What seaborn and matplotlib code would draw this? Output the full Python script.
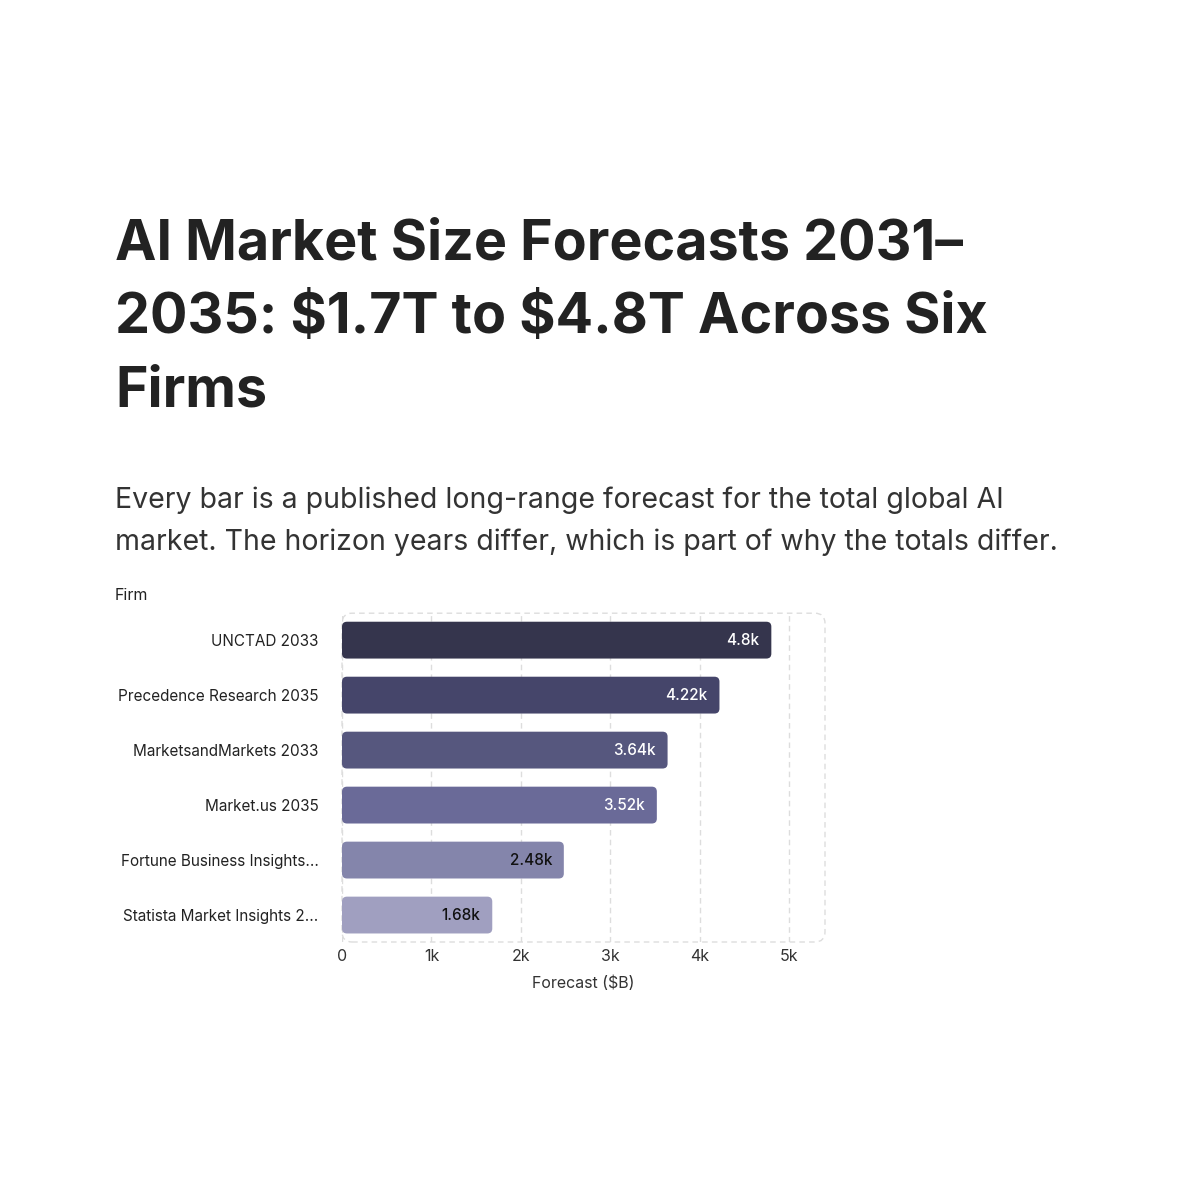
import pandas as pd
import matplotlib.pyplot as plt
import seaborn as sns
from matplotlib.patches import FancyBboxPatch

firms = ["UNCTAD 2033", "Precedence Research 2035", "MarketsandMarkets 2033",
         "Market.us 2035", "Fortune Business Insights...", "Statista Market Insights 2..."]
forecast = [4800, 4220, 3640, 3520, 2480, 1680]
value_labels = ["4.8k", "4.22k", "3.64k", "3.52k", "2.48k", "1.68k"]
bar_colors = ["#35354d", "#45456a", "#56577e", "#6a6a98", "#8485ab", "#a09fc0"]
label_colors = ["white", "white", "white", "white", "#111111", "#111111"]
x_ticks = [0, 1000, 2000, 3000, 4000, 5000]
x_tick_labels = ["0", "1k", "2k", "3k", "4k", "5k"]

sns.set_theme(style="white")
plt.rcParams['font.family'] = ['Inter', 'DejaVu Sans']

df = pd.DataFrame({"Firm": firms, "Forecast": forecast})

fig = plt.figure(figsize=(12, 12), dpi=100)
ax = fig.add_axes([0.285, 0.215, 0.4025, 0.274])

sns.barplot(data=df, y="Firm", x="Forecast", hue="Firm", palette=bar_colors,
            legend=False, width=0.67, ax=ax, saturation=1)

# swap the square bars for rounded ones
for p, c in zip(list(ax.patches), bar_colors):
    x0, y0, w, h = p.get_x(), p.get_y(), p.get_width(), p.get_height()
    p.set_visible(False)
    rb = FancyBboxPatch((x0, y0), w, h, boxstyle="round,pad=0,rounding_size=56",
                        mutation_aspect=0.0016, facecolor=c, edgecolor="none", zorder=3)
    ax.add_patch(rb)

for i, (v, t, c) in enumerate(zip(forecast, value_labels, label_colors)):
    ax.text(v - 130, i, t, ha="right", va="center", fontsize=11, color=c,
            fontweight="medium", zorder=4)

ax.set_xlim(0, 5400)
ax.set_ylim(5.49, -0.49)
ax.set_xticks(x_ticks)
ax.set_xticklabels(x_tick_labels)
ax.grid(axis="x", color="#dddddd", linestyle=(0, (4, 3)), linewidth=1, zorder=0)
ax.set_axisbelow(True)
for s in ax.spines.values():
    s.set_visible(False)

frame = FancyBboxPatch((0, 0), 1, 1, boxstyle="round,pad=0,rounding_size=0.021",
                       mutation_aspect=1.47, transform=ax.transAxes, facecolor="none",
                       edgecolor="#dddddd", linestyle=(0, (4, 3)), linewidth=1,
                       clip_on=False, zorder=1)
ax.add_patch(frame)

ax.tick_params(axis="x", length=0, pad=5, labelsize=11.5, labelcolor="#333333")
ax.tick_params(axis="y", length=15, width=1, color="#dddddd", pad=2,
               labelsize=11, labelcolor="#222222")
for tk in ax.yaxis.get_major_ticks():
    tk.tick1line.set_linestyle((0, (3, 2)))

ax.set_xlabel("Forecast ($B)", fontsize=11.5, color="#333333", labelpad=8)
ax.set_ylabel("")
fig.text(115 / 1200, 1 - 595 / 1200, "Firm", fontsize=11.5, color="#222222",
         ha="left", va="center")

fig.text(115 / 1200, 1 - 219 / 1200,
         "AI Market Size Forecasts 2031–\n2035: \\$1.7T to \\$4.8T Across Six\nFirms",
         fontsize=40, fontweight="bold", color="#222222", ha="left", va="top",
         linespacing=1.52)
fig.text(115 / 1200, 1 - 486 / 1200,
         "Every bar is a published long-range forecast for the total global AI\n"
         "market. The horizon years differ, which is part of why the totals differ.",
         fontsize=20.5, color="#333333", ha="left", va="top", linespacing=1.72)

fig.savefig("out.png", dpi=100, facecolor="white")
plt.close()
